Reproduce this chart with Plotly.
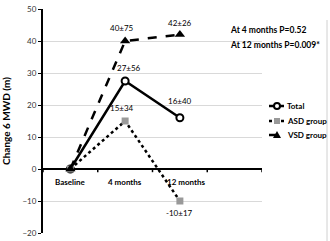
import plotly.graph_objects as go

categories = ["Baseline", "4 months", "12 months"]
cat_pos = [0, 1, 2]
total = [0, 27.5, 16]
asd = [0, 15, -10]
vsd = [0, 40, 42]
total_labels = ["", "27±56", "16±40"]
asd_labels = ["", "15±34", "-10±17"]
vsd_labels = ["", "40±75", "42±26"]
series_names = ["Total", "ASD group", "VSD group"]
y_ticks = [-20, -10, 0, 10, 20, 30, 40, 50]

FONT = "Lato"
PL, PR, PT, PB = 43, 262, 9, 233


def px(x):
    return (x - PL) / (PR - PL)


def py(y):
    return (PB - y) / (PB - PT)


fig = go.Figure()
fig.add_trace(go.Scatter(
    x=cat_pos, y=total, name=series_names[0], mode="lines+markers",
    line=dict(color="black", width=2.5),
    marker=dict(symbol="circle", size=7, color="white", line=dict(color="black", width=2))))
fig.add_trace(go.Scatter(
    x=cat_pos, y=asd, name=series_names[1], mode="lines+markers",
    line=dict(color="black", width=2.5, dash="dot"),
    marker=dict(symbol="square", size=7, color="#999999", line=dict(width=0))))
fig.add_trace(go.Scatter(
    x=cat_pos, y=vsd, name=series_names[2], mode="lines+markers",
    line=dict(color="black", width=2.5, dash="dash"),
    marker=dict(symbol="triangle-up", size=9, color="black")))

label_xshift = {"40±75": -3, "27±56": 4, "15±34": -3}
ann = []
for xs, ys, labs, shift in [(cat_pos, total, total_labels, [0, 13, 17]),
                            (cat_pos, asd, asd_labels, [0, 13, -12]),
                            (cat_pos, vsd, vsd_labels, [0, 13, 12])]:
    for x, y, t, s in zip(xs, ys, labs, shift):
        if t:
            ann.append(dict(x=x, y=y, text=t, showarrow=False, yshift=s,
                            xshift=label_xshift.get(t, 0),
                            font=dict(family=FONT, size=8, color="black")))
for x, c in zip(cat_pos, categories):
    ann.append(dict(x=x, y=0, text="<b>%s</b>" % c, showarrow=False, yshift=-13,
                    xshift=6 if c == "12 months" else 0,
                    font=dict(family=FONT, size=8, color="black")))
ann.append(dict(xref="paper", yref="paper", x=px(228), y=py(23), xanchor="left",
                text="<b>At 4 months P=0.52</b>", showarrow=False,
                font=dict(family=FONT, size=8.5, color="black")))
ann.append(dict(xref="paper", yref="paper", x=px(228), y=py(38), xanchor="left",
                text="<b>At 12 months P=0.009*</b>", showarrow=False,
                font=dict(family=FONT, size=8.5, color="black")))

shapes = []
for xb in [-0.5, 0.5, 1.5, 2.5, 3.5]:
    shapes.append(dict(type="line", xref="x", yref="y", x0=xb, x1=xb, y0=0, y1=-1,
                       line=dict(color="black", width=1.5)))
shapes.append(dict(type="line", xref="paper", yref="paper", x0=px(327), x1=px(327),
                   y0=py(241), y1=py(20), line=dict(color="#d0d0d0", width=1)))

# compact legend (Excel style)
leg_y = [106, 121, 135]
dashes = ["solid", "dot", "dash"]
for name, ly, d in zip(series_names, leg_y, dashes):
    shapes.append(dict(type="line", xref="paper", yref="paper", x0=px(269), x1=px(284),
                       y0=py(ly), y1=py(ly), line=dict(color="black", width=2.5, dash=d)))
    ann.append(dict(xref="paper", yref="paper", x=px(285), y=py(ly), xanchor="left",
                    text="<b>%s</b>" % name, showarrow=False,
                    font=dict(family=FONT, size=8, color="black")))
mx = px(277)
shapes.append(dict(type="circle", xref="paper", yref="paper", xsizemode="pixel",
                   ysizemode="pixel", xanchor=mx, yanchor=py(leg_y[0]),
                   x0=-3, x1=3, y0=-3, y1=3, fillcolor="white",
                   line=dict(color="black", width=2)))
shapes.append(dict(type="rect", xref="paper", yref="paper", xsizemode="pixel",
                   ysizemode="pixel", xanchor=mx, yanchor=py(leg_y[1]),
                   x0=-3, x1=3, y0=-3, y1=3, fillcolor="#999999",
                   line=dict(width=0)))
shapes.append(dict(type="path", xref="paper", yref="paper", xsizemode="pixel",
                   ysizemode="pixel", xanchor=mx, yanchor=py(leg_y[2]),
                   path="M -4 -3 L 4 -3 L 0 4 Z", fillcolor="black",
                   line=dict(width=0)))

fig.update_layout(
    width=330, height=241,
    margin=dict(l=PL, r=330 - PR, t=PT, b=241 - PB, autoexpand=False),
    paper_bgcolor="white", plot_bgcolor="white",
    showlegend=False,
    xaxis=dict(range=[-0.5, 3.5], showticklabels=False, showgrid=False,
               zeroline=False, showline=False, ticks="", automargin=False),
    yaxis=dict(range=[-20, 50], tickvals=y_ticks, showgrid=True, gridcolor="#d9d9d9",
               gridwidth=1, zeroline=True, zerolinecolor="black", zerolinewidth=2,
               showline=True, linecolor="black", linewidth=2, ticks="outside",
               ticklen=3, tickcolor="black", automargin=False,
               tickfont=dict(family=FONT, size=8, color="#333333"),
               title=dict(text="<b>Change 6 MWD (m)</b>", standoff=11,
                          font=dict(family=FONT, size=10, color="black"))),
    annotations=ann, shapes=shapes,
)
fig.write_html("out.html", config={"displayModeBar": False},
               post_script="document.body.style.margin='0';document.body.style.overflow='hidden';")
